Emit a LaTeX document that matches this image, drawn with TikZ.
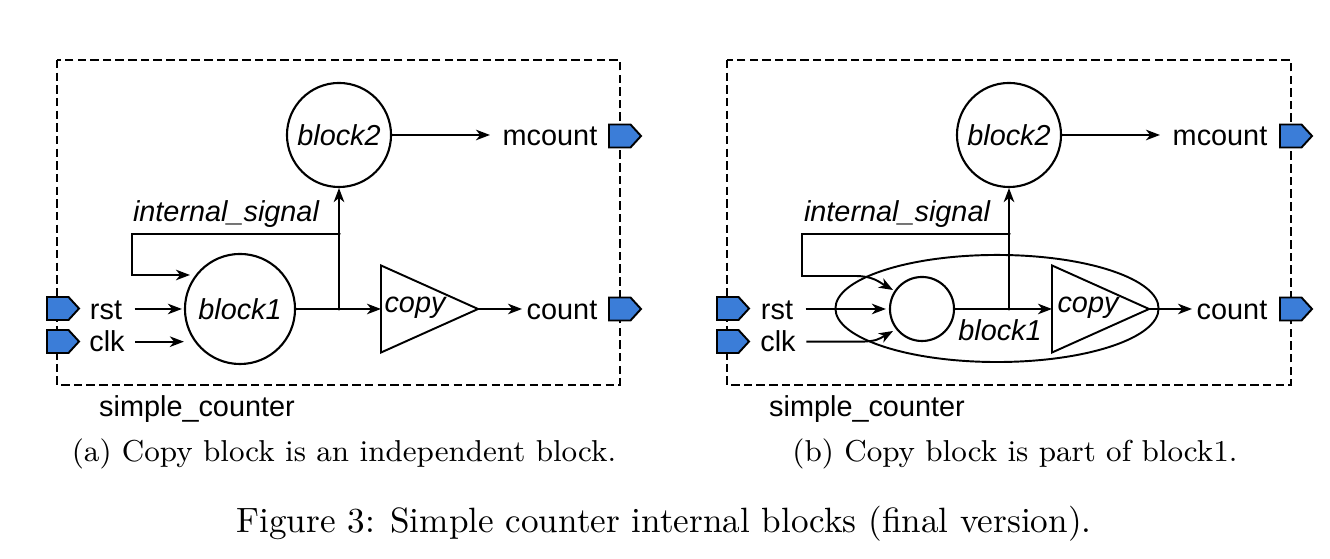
\documentclass[tikz,border=0pt]{standalone}
\usepackage{fontspec}
\newfontfamily\arial{Liberation Sans}
\usepackage{tikz}
\usetikzlibrary{arrows.meta,positioning,calc,shapes.geometric,shapes.symbols}
\definecolor{port}{HTML}{3B7DD8}

\begin{document}
\begin{tikzpicture}[x=0.01cm,y=-0.01cm,
  blk/.style={circle,draw,line width=0.6pt,inner sep=0pt,font=\fontsize{8.2}{10}\arial\itshape},
  txt/.style={anchor=base,inner sep=0pt,font=\fontsize{8.2}{10}\arial},
  itxt/.style={anchor=base,inner sep=0pt,font=\fontsize{8.2}{10}\arial\itshape},
  subcap/.style={anchor=base,inner sep=0pt,font=\fontsize{8.6}{10}\selectfont},
  ar/.style={-{Stealth[length=4pt,width=3pt,inset=1.2pt]},line width=0.55pt},
  ln/.style={line width=0.55pt},
  frm/.style={line width=0.6pt,dash pattern=on 2.4pt off 1.2pt},
  pin/.style={signal,signal to=east,signal pointer angle=95,draw,fill=port,line width=0.55pt,
              minimum width=0.32cm,minimum height=0.23cm,inner sep=0pt,outer sep=0pt,anchor=west},
  cpy/.style={isosceles triangle,isosceles triangle stretches,draw,line width=0.55pt,
              minimum height=0.97cm,minimum width=0.87cm,inner sep=0pt,outer sep=0pt,anchor=west},
  jn/.style={circle,fill,inner sep=0pt,minimum size=0.035cm}]
\useasboundingbox (0,0) rectangle (1330,559);

% (a) copy block on its own
\draw[frm] (57,60) rectangle (620,385);
\node[blk,minimum size=1.04cm] (b2a) at (339,135) {block2};
\node[blk,minimum size=1.1cm] (b1a) at (240,309) {block1};
\node[cpy] (cpa) at (381,309) {};
\node[itxt] (cla) at (415,313) {copy};
\node[jn] (jba) at (339,309) {};
\node[jn] (jta) at (339,234) {};
\node[txt] (rsa) at (106,320) {rst};
\node[txt] (cka) at (107,352) {clk};
\node[txt] (mca) at (550,146) {mcount};
\node[txt] (cta) at (562,320) {count};
\node[itxt] (isa) at (226,222) {internal\_signal};
\node[txt] (sca) at (197,417) {simple\_counter};
\node[pin] (pra) at (47,308.5) {};
\node[pin] (pca) at (47,341.5) {};
\node[pin] (pma) at (609,136) {};
\node[pin] (pta) at (609,309) {};
\coordinate (lpa) at (132,275);
\coordinate (ina) at (190,275);
\draw[ar,shorten >=0.12cm] (b2a.east) -- (b2a.east -| mca.west);
\draw[ar,shorten >=0.04cm] (cpa.east) -- (cpa.east -| cta.west);
\draw[ar] (b1a.east) -- (cpa.west);
\draw[ar] (jba.center) -- (b2a.south);
\draw[ar] (jta.center) -| (lpa) -- (ina);
\draw[ar] ([xshift=0.12cm]b1a.west -| rsa.east) -- ([xshift=-0.02cm]b1a.west);
\draw[ar] ([xshift=0.1cm]cka.east) -- (cka.east -| b1a.west);
\node[subcap] (capa) at (344,462) {(a) Copy block is an independent block.};

% (b) copy block inside block1
\draw[frm] (727,60) rectangle (1291,385);
\node[ellipse,draw,ln,minimum width=3.23cm,minimum height=1.07cm,inner sep=0pt] (elb) at (997,308.5) {};
\node[blk,minimum size=1.04cm] (b2b) at (1009,135) {block2};
\node[blk,minimum size=0.64cm] (b1b) at (922,309) {};
\node[itxt] (blb) at (1000,341) {block1};
\node[cpy] (cpb) at (1052,309) {};
\node[itxt] (clb) at (1088,313) {copy};
\node[jn] (jbb) at (1009,309) {};
\node[jn] (jtb) at (1009,234) {};
\node[txt] (rsb) at (777,320) {rst};
\node[txt] (ckb) at (778,352) {clk};
\node[txt] (mcb) at (1220,146) {mcount};
\node[txt] (ctb) at (1232,320) {count};
\node[itxt] (isb) at (897,222) {internal\_signal};
\node[txt] (scb) at (867,417) {simple\_counter};
\node[pin] (prb) at (717,308.5) {};
\node[pin] (pcb) at (717,341.5) {};
\node[pin] (pmb) at (1280,136) {};
\node[pin] (ptb) at (1280,309) {};
\coordinate (lpb) at (802,276);
\coordinate (inb) at (893,290);
\coordinate (icb) at (893,331);
\draw[ar,shorten >=0.12cm] (b2b.east) -- (b2b.east -| mcb.west);
\draw[ar,shorten >=0.04cm] (cpb.east) -- (cpb.east -| ctb.west);
\draw[ar] (b1b.east) -- (cpb.west);
\draw[ar] (jbb.center) -- (b2b.south);
\draw[ar] (jtb.center) -| (lpb) -- ++(53,0) .. controls +(18,0) and +(-14,-8) .. (inb);
\draw[ar,shorten >=0.03cm] ([xshift=0.12cm]b1b.west -| rsb.east) -- (b1b.west);
\draw[ar] ([xshift=0.1cm]ckb.east) -- ++(0.52cm,0) .. controls +(18,0) and +(-14,8) .. (icb);
\node[subcap] (capb) at (1015,462) {(b) Copy block is part of block1.};

\node[anchor=base,inner sep=0pt,font=\fontsize{10}{12}\selectfont] (fig) at (664,533)
  {Figure 3: Simple counter internal blocks (final version).};
\end{tikzpicture}
\end{document}
